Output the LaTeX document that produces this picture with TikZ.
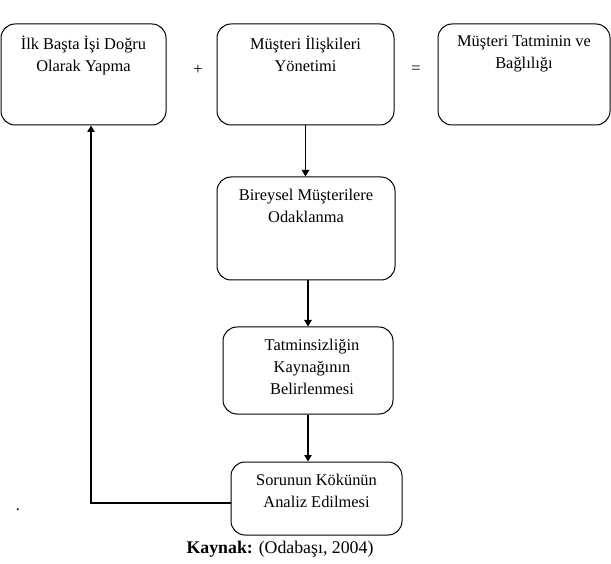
\documentclass[tikz,border=0pt]{standalone}
\usepackage{fontspec}
\setmainfont{Liberation Serif}
\usetikzlibrary{arrows.meta,calc}
\begin{document}
\begin{tikzpicture}[x=1pt,y=-1pt,
  box/.style={draw,line width=1pt,rounded corners=14pt,inner sep=0pt},
  txt/.style={font=\fontsize{16.4}{22}\selectfont,align=center,inner sep=0pt,anchor=north},
  sym/.style={font=\fontsize{16.4}{22}\selectfont,inner sep=0pt},
  arr/.style={line width=1.1pt,-{Triangle[length=6.5pt,width=7.5pt]}}]
\useasboundingbox (0,0) rectangle (611,564);
\node[box,minimum width=165pt,minimum height=101pt] (b1) at (83.5,74.5) {};
\node[box,minimum width=177pt,minimum height=101pt] (b2) at (305.5,74.5) {};
\node[box,minimum width=172pt,minimum height=101pt] (b3) at (524,74.5) {};
\node[box,minimum width=178pt,minimum height=103pt] (b4) at (306,228.5) {};
\node[box,minimum width=170pt,minimum height=87pt] (b5) at (308,370.5) {};
\node[box,minimum width=171pt,minimum height=73pt] (b6) at (316.5,498.5) {};
\node[txt] (t1) at ([yshift=-12pt]b1.north) {İlk Başta İşi Doğru\\Olarak Yapma};
\node[txt] (t2) at ([yshift=-12pt]b2.north) {Müşteri İlişkileri\\Yönetimi};
\node[txt] (t3) at ([yshift=-12pt]b3.north) {Müşteri Tatminin ve\\Bağlılığı};
\node[txt] (t4) at ([yshift=-12pt]b4.north) {Bireysel Müşterilere\\Odaklanma};
\node[txt] (t5) at ([yshift=-12pt,xshift=4pt]b5.north) {Tatminsizliğin\\Kaynağının\\Belirlenmesi};
\node[txt] (t6) at ([yshift=-12pt]b6.north) {Sorunun Kökünün\\Analiz Edilmesi};
\node[sym] (plus) at (198,70) {+};
\node[sym] (eq) at (416,70) {=};
\draw[arr] (b2.south) -- (b2.south |- b4.north);
\draw[arr] (b5.north |- b4.south) -- (b5.north);
\draw[arr] (b5.south) -- (b5.south |- b6.north);
\draw[arr] ([yshift=-4.5pt]b6.west) -| ([xshift=7.5pt]b1.south);
\node[sym] (dot) at (18,510) {.};
\node[font=\fontsize{17.8}{22}\selectfont,inner sep=0pt] (src) at (280,549) {\textbf{Kaynak:} (Odabaşı, 2004)};
\end{tikzpicture}
\end{document}
